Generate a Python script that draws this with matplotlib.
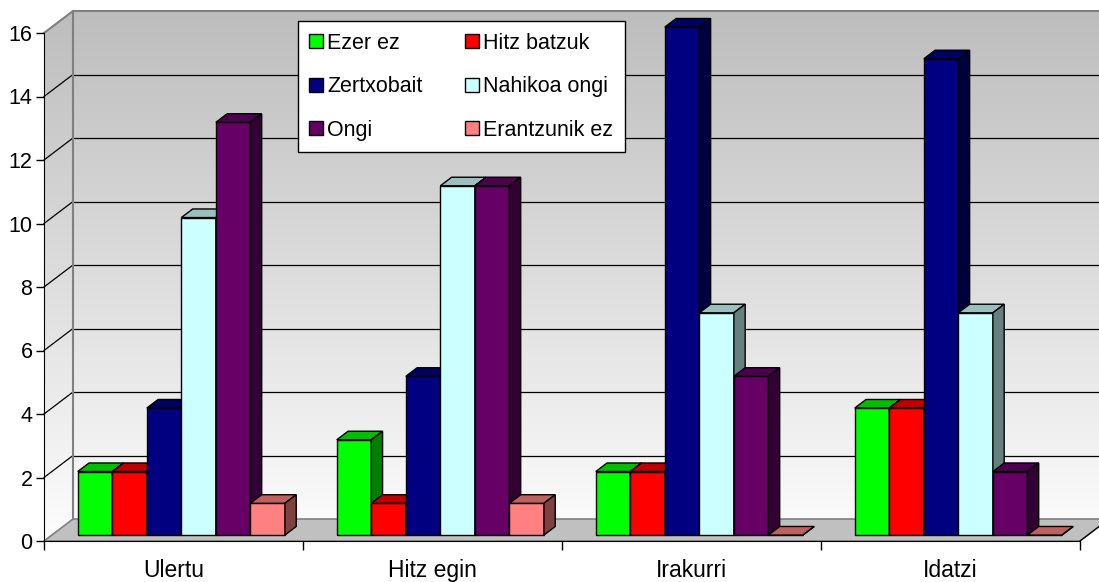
import numpy as np
import matplotlib
matplotlib.use("Agg")
import matplotlib.pyplot as plt
from matplotlib.patches import Polygon
from matplotlib.lines import Line2D
from matplotlib.colors import LinearSegmentedColormap, to_rgb

plt.rcParams['font.family'] = ['Liberation Sans', 'DejaVu Sans']

categories = ["Ulertu", "Hitz egin", "Irakurri", "Idatzi"]
series = ["Ezer ez", "Hitz batzuk", "Zertxobait", "Nahikoa ongi", "Ongi", "Erantzunik ez"]
ezer_ez = [2, 3, 2, 4]
hitz_batzuk = [2, 1, 2, 4]
zertxobait = [4, 5, 16, 15]
nahikoa_ongi = [10, 11, 7, 7]
ongi = [13, 11, 5, 2]
erantzunik_ez = [1, 1, 0, 0]
yticks = list(range(0, 17, 2))

values = [ezer_ez, hitz_batzuk, zertxobait, nahikoa_ongi, ongi, erantzunik_ez]
colors = ["#00FF00", "#FF0000", "#000080", "#CCFFFF", "#660066", "#FF8080"]


def shade(c, f):
    r, g, b = to_rgb(c)
    return (r * f, g * f, b * f)


W, H = 1099, 582
fig = plt.figure(figsize=(W / 100, H / 100), dpi=100)
ax = fig.add_axes([0, 0, 1, 1])

# front plane of the box: x 0..4 over px 44..1080, y 0..16 over px 541..33
sx = 4 / (1080 - 44)
sy = 16 / (541 - 33)
xmin, xmax = -44 * sx, (W - 44) * sx
ymin, ymax = -(H - 541) * sy, 541 * sy

# depth of the box (back wall offset)
DX, DY = 29 * sx, 22 * sy
top = yticks[-1]
x_end = xmax + 0.1

# walls with vertical gradient
grad = np.linspace(0, 1, 256).reshape(-1, 1)
cmap = LinearSegmentedColormap.from_list("wall", ["#FDFDFD", "#BDBDBD"])
im = ax.imshow(grad, extent=(0, x_end, 0, top + DY), origin='lower',
               cmap=cmap, aspect='auto', zorder=0, interpolation='bilinear')
walls = Polygon([(0, 0), (DX, DY), (x_end, DY), (x_end, top + DY),
                 (DX, top + DY), (0, top)], closed=True, facecolor='none',
                edgecolor='none', transform=ax.transData)
ax.add_patch(walls)
im.set_clip_path(walls)

# gridlines on side and back wall
for v in yticks[1:-1]:
    ax.plot([0, DX], [v, v + DY], color='black', lw=0.9, zorder=1.5)
    ax.plot([DX, x_end], [v + DY, v + DY], color='black', lw=0.9, zorder=1.5)
ax.plot([0, DX, x_end], [top, top + DY, top + DY], color='#808080', lw=1.5, zorder=1.5)
ax.plot([DX, DX], [DY, top + DY], color='#808080', lw=1.5, zorder=1.5)

# floor
ax.add_patch(Polygon([(0, 0), (4, 0), (4 + DX, DY), (DX, DY)], closed=True,
                     facecolor='#C0C0C0', edgecolor='#808080', lw=1.2, zorder=1))
ax.plot([4, 4 + DX], [0, DY], color='black', lw=0.9, zorder=1.6)

# bars
Z0, Z1 = 0.27, 0.66
gap = 0.1
bw = (1 - 2 * gap) / len(series)
dx, dy = (Z1 - Z0) * DX, (Z1 - Z0) * DY
base = Z0 * DY
x = np.arange(len(categories))
for j, (name, vals) in enumerate(zip(series, values)):
    z = 3 + j
    xl = x + gap + j * bw + Z0 * DX
    ax.bar(xl, vals, width=bw, bottom=base, align='edge', color=colors[j],
           edgecolor='black', lw=1.0, zorder=z)
    for xi, v in zip(xl, vals):
        yt = base + v
        ax.add_patch(Polygon([(xi, yt), (xi + bw, yt), (xi + bw + dx, yt + dy), (xi + dx, yt + dy)],
                             closed=True, facecolor=shade(colors[j], 0.75),
                             edgecolor='black', lw=1.0, zorder=z))
        ax.add_patch(Polygon([(xi + bw, base), (xi + bw + dx, base + dy), (xi + bw + dx, yt + dy), (xi + bw, yt)],
                             closed=True, facecolor=shade(colors[j], 0.5),
                             edgecolor='black', lw=1.0, zorder=z))

# axes
ax.set_xlim(xmin, xmax)
ax.set_ylim(ymin, ymax)
for s in ['top', 'right']:
    ax.spines[s].set_visible(False)
ax.spines['left'].set_position(('data', 0))
ax.spines['left'].set_bounds(0, top)
ax.spines['bottom'].set_position(('data', 0))
ax.spines['bottom'].set_bounds(0, len(categories))
ax.set_yticks(yticks)
ax.set_yticklabels([str(t) for t in yticks], fontsize=15.5)
ax.set_xticks(range(len(categories) + 1))
ax.set_xticklabels([])
ax.set_xticks(x + 0.5, minor=True)
ax.set_xticklabels(categories, minor=True, fontsize=16.5)
ax.tick_params(axis='x', which='minor', length=0, pad=13)
ax.tick_params(axis='x', which='major', length=6.5, direction='out', width=1)
ax.tick_params(axis='y', length=5.8, direction='out', pad=2.5, width=1)

# legend, filled row by row
handles = [Line2D([], [], linestyle='none', marker='s', markersize=10,
                  markerfacecolor=c, markeredgecolor='black', markeredgewidth=1.0)
           for c in colors]
order = [0, 2, 4, 1, 3, 5]
leg = fig.legend([handles[k] for k in order], [series[k] for k in order],
                 loc='upper left', bbox_to_anchor=(298 / W, 1 - 21 / H),
                 bbox_transform=fig.transFigure, ncol=2, fontsize=15.5,
                 frameon=True, fancybox=False, edgecolor='black', framealpha=1,
                 borderpad=0.55, handlelength=0.6, handletextpad=0.21,
                 labelspacing=1.04, columnspacing=2.0, borderaxespad=0)
leg.get_frame().set_linewidth(1.0)

fig.savefig('out.png', dpi=100)
